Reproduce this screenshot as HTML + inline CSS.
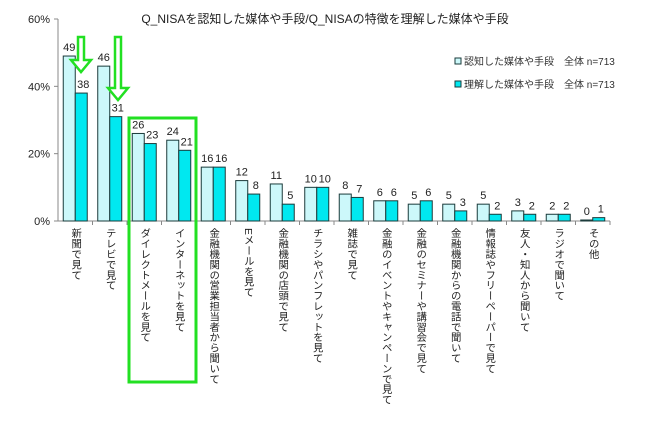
<!DOCTYPE html>
<html><head><meta charset="utf-8"><style>
body{margin:0;background:#fff;}
#wrap{position:relative;width:650px;height:428px;overflow:hidden;font-family:"Liberation Sans","Noto Sans CJK JP",sans-serif;}
.cat{position:absolute;top:228px;writing-mode:vertical-rl;font-size:10.4px;line-height:12px;letter-spacing:0;white-space:nowrap;color:#222;}
</style></head><body>
<div id="wrap">
<svg id="svg" width="650" height="428" style="position:absolute;left:0;top:0"></svg>
</div>
<script>
const categories=["新聞で見て","テレビで見て","ダイレクトメールを見て","インターネットを見て","金融機関の営業担当者から聞いて","Eメールを見て","金融機関の店頭で見て","チラシやパンフレットを見て","雑誌で見て","金融のイベントやキャンペーンで見て","金融のセミナーや講習会で見て","金融機関からの電話で聞いて","情報誌やフリーペーパーで見て","友人・知人から聞いて","ラジオで聞いて","その他"];
const aware=[49,46,26,24,16,12,11,10,8,6,5,5,5,3,2,0.3];
const awareLbl=["49","46","26","24","16","12","11","10","8","6","5","5","5","3","2","0"];
const understood=[38,31,23,21,16,8,5,10,7,6,6,3,2,2,2,1];
const underLbl=["38","31","23","21","16","8","5","10","7","6","6","3","2","2","2","1"];
const yTicks=[0,20,40,60];
const NS="http://www.w3.org/2000/svg";
const svg=document.getElementById('svg');
const wrap=document.getElementById('wrap');
const x0=58,x1=610,y0=221,yTop=19;
const y=v=>y0-(v/60)*(y0-yTop);
const step=(x1-x0)/categories.length;
const cx=i=>x0+step*(i+0.5);
const bw=12;
function el(t,a,p){const e=document.createElementNS(NS,t);for(const k in a)e.setAttribute(k,a[k]);(p||svg).appendChild(e);return e;}
let t=el('text',{x:325,y:23,'text-anchor':'middle','font-size':12,fill:'#222'});t.textContent="Q_NISAを認知した媒体や手段/Q_NISAの特徴を理解した媒体や手段";


let a=el('line',{x1:x0,y1:yTop,x2:x0,y2:y0,stroke:'#888'});


a=el('line',{x1:x0,y1:y0,x2:x1,y2:y0,stroke:'#888'});


yTicks.forEach(v=>{
 el('line',{x1:x0-4,y1:y(v),x2:x0,y2:y(v),stroke:'#888'});
 const tx=el('text',{x:x0-8,y:y(v)+4,'text-anchor':'end','font-size':11,fill:'#222'});tx.textContent=v+"%";
 
 
});
categories.forEach((c,i)=>{
 const c0=cx(i);
 el('line',{x1:x0+step*(i+1),y1:y0,x2:x0+step*(i+1),y2:y0+4,stroke:'#888'});
 const r1=el('rect',{x:c0-bw,y:y(aware[i]),width:bw,height:y0-y(aware[i]),fill:'#ccf8fa',stroke:'#1a3a3a','stroke-width':1});
 
 
 const r2=el('rect',{x:c0,y:y(understood[i]),width:bw,height:y0-y(understood[i]),fill:'#00e8f0',stroke:'#1a3a3a','stroke-width':1});
 
 
 const l1=el('text',{x:c0-bw/2,y:y(aware[i])-5,'text-anchor':'middle','font-size':11,fill:'#222'});l1.textContent=awareLbl[i];
 
 
 const l2=el('text',{x:c0+bw/2+2,y:y(understood[i])-5,'text-anchor':'middle','font-size':11,fill:'#222'});l2.textContent=underLbl[i];
 
 
 const d=document.createElement('div');d.className='cat';d.textContent=c;d.style.left=(c0-7)+'px';
 
 
 wrap.appendChild(d);
});
[["認知した媒体や手段　全体 n=713",'#ccf8fa',64],["理解した媒体や手段　全体 n=713",'#00e8f0',87]].forEach((L,k)=>{
 const s=el('rect',{x:455,y:L[2]-6,width:6,height:6,fill:L[1],stroke:'#1a3a3a'});
 
 
 const tx=el('text',{x:464,y:L[2]+1,'font-size':10,fill:'#333'});tx.textContent=L[0];
 
 
});
const g='#22e022';
const bx=el('rect',{x:129,y:118,width:67,height:264,fill:'none',stroke:g,'stroke-width':3});


[[81,37,72],[118,37,100]].forEach(p=>{
 const [ax,t0,tip]=p;
 const pts=`${ax-3},${t0} ${ax+3},${t0} ${ax+3},${tip-12} ${ax+10},${tip-12} ${ax},${tip} ${ax-10},${tip-12} ${ax-3},${tip-12}`;
 const ar=el('polygon',{points:pts,fill:'#fff',stroke:g,'stroke-width':2.5});
 
 
});
</script>
</body></html>
